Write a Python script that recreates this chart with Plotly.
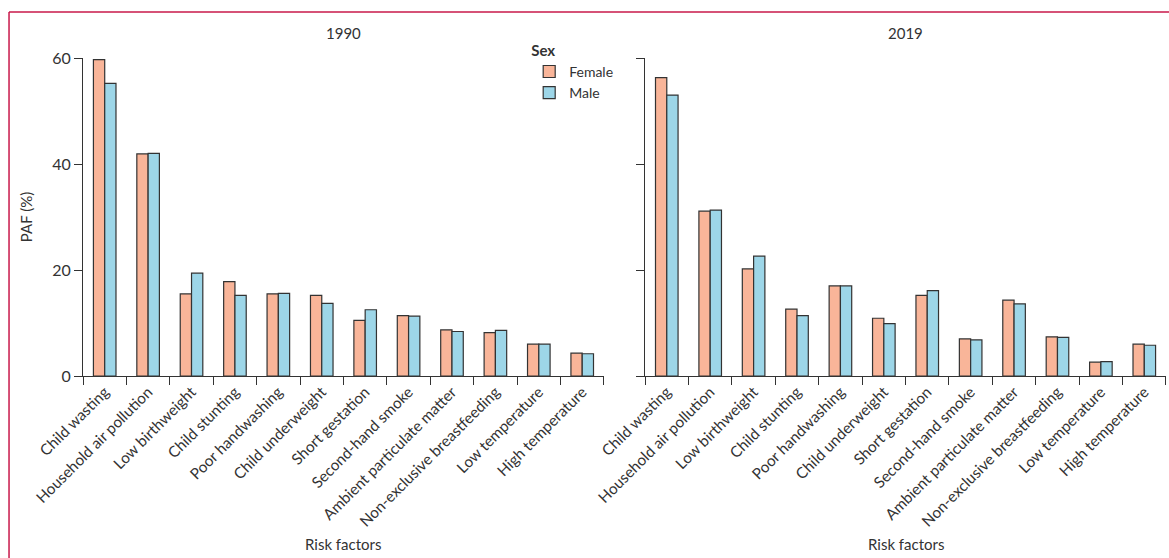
import plotly.graph_objects as go
from plotly.subplots import make_subplots

# Data
risk_factors = ['Child wasting', 'Household air pollution', 'Low birthweight', 'Child stunting',
                'Poor handwashing', 'Child underweight', 'Short gestation', 'Second-hand smoke',
                'Ambient particulate matter', 'Non-exclusive breastfeeding', 'Low temperature',
                'High temperature']

female_1990 = [59.7, 41.9, 15.5, 17.8, 15.5, 15.2, 10.5, 11.4, 8.7, 8.2, 6.0, 4.3]
male_1990 = [55.2, 42.0, 19.4, 15.2, 15.6, 13.7, 12.5, 11.3, 8.4, 8.6, 6.0, 4.2]

female_2019 = [56.3, 31.1, 20.2, 12.6, 17.0, 10.9, 15.2, 7.0, 14.3, 7.4, 2.6, 6.0]
male_2019 = [53.0, 31.3, 22.6, 11.4, 17.0, 9.9, 16.1, 6.8, 13.6, 7.3, 2.7, 5.8]

years = ['1990', '2019']
y_ticks = [0, 20, 40, 60]

FEMALE = '#F9B599'
MALE = '#9DD6E8'
EDGE = '#333333'
FONT = 'Lato, sans-serif'

fig = make_subplots(rows=1, cols=2, horizontal_spacing=0.038)

for col, (fem, mal) in enumerate([(female_1990, male_1990), (female_2019, male_2019)], start=1):
    fig.add_trace(go.Bar(x=risk_factors, y=fem, name='Female', marker_color=FEMALE,
                         marker_line=dict(color=EDGE, width=1.2), showlegend=(col == 1),
                         legendgroup='f'), row=1, col=col)
    fig.add_trace(go.Bar(x=risk_factors, y=mal, name='Male', marker_color=MALE,
                         marker_line=dict(color=EDGE, width=1.2), showlegend=(col == 1),
                         legendgroup='m'), row=1, col=col)

fig.update_xaxes(showline=True, linecolor=EDGE, linewidth=1.2, ticks='outside', ticklen=8,
                 tickcolor=EDGE, tickwidth=1.2, tickangle=-45, showgrid=False, automargin=False,
                 tickson='boundaries', tickfont=dict(size=15.3, color='#333'))
fig.update_yaxes(range=[0, 60], tickvals=y_ticks, showline=True, linecolor=EDGE, linewidth=1.2,
                 ticks='outside', ticklen=8, tickcolor=EDGE, tickwidth=1.2, showgrid=False,
                 zeroline=False, automargin=False, tickfont=dict(size=16, color='#333'))
fig.update_yaxes(title_text='PAF (%)', title_font=dict(size=15, color='#333'), row=1, col=1)
fig.update_yaxes(showticklabels=False, row=1, col=2)

fig.update_layout(
    width=1169, height=558,
    margin=dict(l=83, r=3, t=58, b=182),
    barmode='group', bargap=0.48, bargroupgap=0,
    plot_bgcolor='white', paper_bgcolor='white',
    font=dict(family=FONT, size=15, color='#333'),
    legend=dict(title=dict(text='<b>Sex</b>', font=dict(size=15)), x=0.412, y=1.068,
                xanchor='left', yanchor='top', bgcolor='rgba(0,0,0,0)',
                font=dict(size=14), tracegroupgap=0, itemwidth=30),
)

# panel titles and x axis titles
for i, yr in enumerate(years):
    xd = f'x{"" if i == 0 else 2} domain'
    fig.add_annotation(text=yr, xref=xd, yref='paper', x=0.5, y=1.079, showarrow=False,
                       yanchor='middle', font=dict(size=15, color='#333'))
    fig.add_annotation(text='Risk factors', xref=xd, yref='paper', x=0.5, y=-0.528,
                       showarrow=False, yanchor='middle', font=dict(size=15, color='#333'))

# red frame of the figure panel
fig.add_shape(type='line', xref='paper', yref='paper', x0=-0.0683, x1=1.01, y0=1.145, y1=1.145,
              line=dict(color='#C8184A', width=1.5))
fig.add_shape(type='line', xref='paper', yref='paper', x0=-0.0683, x1=-0.0683, y0=1.145, y1=-0.6,
              line=dict(color='#C8184A', width=1.5))

fig.write_html('out.html', config={'displayModeBar': False},
               post_script="document.body.style.margin='0';")
